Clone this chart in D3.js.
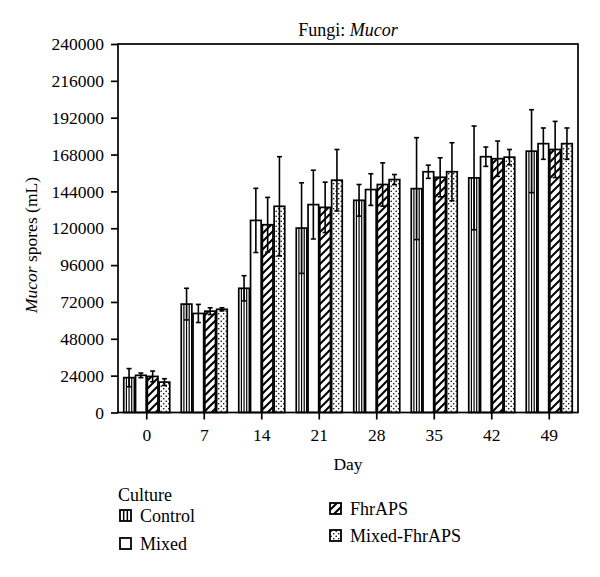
<!DOCTYPE html>
<html><head><meta charset="utf-8">
<script src="https://cdn.jsdelivr.net/npm/d3@7"></script>
<style>body{margin:0;background:#fff}</style>
</head><body>
<script>
const days = ["0","7","14","21","28","35","42","49"];
const seriesNames = ["Control","Mixed","FhrAPS","Mixed-FhrAPS"];
const controlMean = [22700,70600,80900,120100,138200,145800,152800,170200];
const controlErr  = [5900,10300,8200,29500,10300,33200,33800,27000];
const mixedMean   = [24200,64500,125100,135400,145200,156800,166600,175100];
const mixedErr    = [1500,5900,20900,22400,10300,4300,6300,10200];
const fhrMean     = [23500,66000,122300,133600,148500,153200,165300,171300];
const fhrErr      = [3500,2200,17800,16400,14100,12700,11500,18300];
const mfMean      = [19800,67200,134300,151300,151700,156800,166300,175100];
const mfErr       = [2200,1000,32300,20000,3300,18900,5000,10200];
const yTicks = [0,24000,48000,72000,96000,120000,144000,168000,192000,216000,240000];

const means = [controlMean, mixedMean, fhrMean, mfMean];
const errs = [controlErr, mixedErr, fhrErr, mfErr];
const data = [];
days.forEach((d,i)=>seriesNames.forEach((s,j)=>data.push({day:d, s, j, v:means[j][i], e:errs[j][i]})));

const W=600,H=577, L=118,R=578,T=44,B=412.5;
const font = "'Liberation Serif','DejaVu Serif',serif";
const svg = d3.select("body").append("svg").attr("width",W).attr("height",H)
  .style("font-family",font);

const defs = svg.append("defs");
const diag = defs.append("pattern").attr("id","diag").attr("patternUnits","userSpaceOnUse")
  .attr("width",8).attr("height",8);
diag.append("rect").attr("width",8).attr("height",8).attr("fill","#fff");
diag.append("path").attr("d","M-1,9 L9,-1 M-2,2 L2,-2 M6,10 L10,6").attr("stroke","#000").attr("stroke-width",2);
const dots = defs.append("pattern").attr("id","dots").attr("patternUnits","userSpaceOnUse")
  .attr("width",5).attr("height",5);
dots.append("rect").attr("width",5).attr("height",5).attr("fill","#fff");
dots.append("circle").attr("cx",1.2).attr("cy",1.2).attr("r",0.8).attr("fill","#000");
dots.append("circle").attr("cx",3.7).attr("cy",3.7).attr("r",0.8).attr("fill","#000");

const fills = ["#fff","#fff","url(#diag)","url(#dots)"];

const x0 = d3.scaleBand().domain(days).range([L,R]).paddingInner(0.2).paddingOuter(0.1);
const x1 = d3.scaleBand().domain(seriesNames).range([0,x0.bandwidth()]).paddingInner(0.1);
const y = d3.scaleLinear().domain([0,240000]).range([B,T]);

// bars
const g = svg.append("g");
const bars = g.selectAll("g.bar").data(data).join("g").attr("class","bar");
bars.append("rect")
  .attr("x",d=>x0(d.day)+x1(d.s)).attr("y",d=>y(d.v))
  .attr("width",x1.bandwidth()).attr("height",d=>B-y(d.v))
  .attr("fill",d=>fills[d.j]).attr("stroke","#000").attr("stroke-width",1.7);
// control stripes
bars.filter(d=>d.j===0).each(function(d){
  const bx=x0(d.day)+x1(d.s), w=x1.bandwidth();
  [1,2,3].forEach(k=>d3.select(this).append("line")
    .attr("x1",bx+w*k/4).attr("x2",bx+w*k/4).attr("y1",y(d.v)).attr("y2",B)
    .attr("stroke","#000").attr("stroke-width",1.2));
});
// error bars
const cap=2.5;
bars.each(function(d){
  const cx=x0(d.day)+x1(d.s)+x1.bandwidth()/2;
  const sel=d3.select(this);
  sel.append("line").attr("x1",cx).attr("x2",cx).attr("y1",y(d.v+d.e)).attr("y2",y(d.v-d.e)).attr("stroke","#000").attr("stroke-width",1.6);
  [d.v+d.e,d.v-d.e].forEach(v=>sel.append("line").attr("x1",cx-cap).attr("x2",cx+cap).attr("y1",y(v)).attr("y2",y(v)).attr("stroke","#000").attr("stroke-width",1.6));
});

// frame
svg.append("rect").attr("x",L).attr("y",T).attr("width",R-L).attr("height",B-T)
  .attr("fill","none").attr("stroke","#000").attr("stroke-width",1.7);

// axes
const ya = svg.append("g").attr("transform",`translate(${L},0)`)
  .call(d3.axisLeft(y).tickValues(yTicks).tickSize(7).tickPadding(7).tickFormat(d3.format("d")));
ya.select(".domain").remove();
ya.selectAll("line").attr("stroke-width",1.7);
ya.selectAll("text").style("font-size","17.5px").style("font-family",font).attr("fill","#000");

const xa = svg.append("g").attr("transform",`translate(0,${B})`)
  .call(d3.axisBottom(x0).tickSize(7).tickPadding(9));
xa.select(".domain").remove();
xa.selectAll("line").attr("stroke-width",1.7);
xa.selectAll("text").style("font-size","17.5px").style("font-family",font).attr("fill","#000");

// title
const title = svg.append("text").attr("x",(L+R)/2).attr("y",36).attr("text-anchor","middle")
  .style("font-size","18px");
title.append("tspan").text("Fungi: ");
title.append("tspan").style("font-style","italic").text("Mucor");

// y label
const yl = svg.append("text").attr("transform","translate(37,245) rotate(-90)").attr("text-anchor","middle")
  .style("font-size","17.5px");
yl.append("tspan").style("font-style","italic").text("Mucor");
yl.append("tspan").text(" spores (mL)");

svg.append("text").attr("x",(L+R)/2).attr("y",470).attr("text-anchor","middle").style("font-size","17.5px").text("Day");

// legend
svg.append("text").attr("x",118).attr("y",501).style("font-size","18px").text("Culture");
const legPos = [[120,522],[120,550],[330,515],[330,542]];
seriesNames.forEach((s,j)=>{
  const [lx,ly]=legPos[j];
  const lg = svg.append("g");
  lg.append("rect").attr("x",lx).attr("y",ly-12).attr("width",11).attr("height",11)
    .attr("fill",fills[j]).attr("stroke","#000").attr("stroke-width",1.8);
  if(j===0){[1,2].forEach(k=>lg.append("line").attr("x1",lx+11*k/3).attr("x2",lx+11*k/3).attr("y1",ly-12).attr("y2",ly-1).attr("stroke","#000").attr("stroke-width",1.5));}
  lg.append("text").attr("x",lx+20).attr("y",ly).style("font-size","18px").text(s);
});
</script>
</body></html>
